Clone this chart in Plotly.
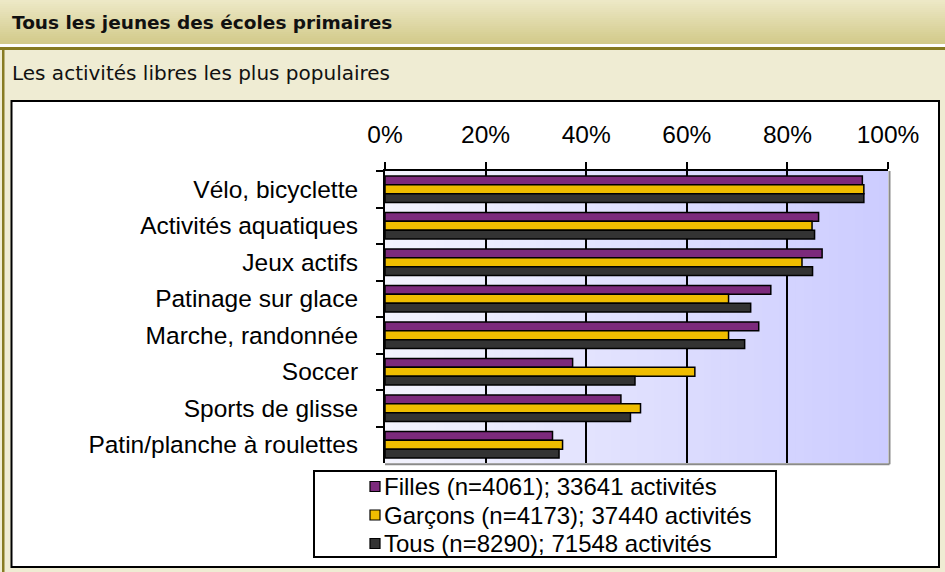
import plotly.graph_objects as go

categories = ["Vélo, bicyclette", "Activités aquatiques", "Jeux actifs", "Patinage sur glace",
              "Marche, randonnée", "Soccer", "Sports de glisse", "Patin/planche à roulettes"]
filles = [94.9, 86.2, 86.9, 76.7, 74.3, 37.3, 46.9, 33.3]
garcons = [95.2, 84.9, 82.9, 68.3, 68.3, 61.6, 50.8, 35.3]
tous = [95.2, 85.4, 85.0, 72.7, 71.5, 49.7, 48.8, 34.6]
series_names = ["Filles (n=4061); 33641 activités",
                "Garçons (n=4173); 37440 activités",
                "Tous (n=8290); 71548 activités"]
tick_vals = [0, 20, 40, 60, 80, 100]
tick_text = ["0%", "20%", "40%", "60%", "80%", "100%"]
title_text = "Tous les jeunes des écoles primaires"
subtitle_text = "Les activités libres les plus populaires"

W, H = 945, 572
L, R, T, B = 385, 57, 171, 109
PW, PH = W - L - R, H - T - B


def xp(px):
    return (px - L) / PW


def yp(py):
    return (H - B - py) / PH


colors = ["#7c2a7c", "#efbd00", "#333333"]
fig = go.Figure()
for name, vals, col in zip(series_names, [filles, garcons, tous], colors):
    fig.add_trace(go.Bar(
        y=categories, x=vals, name=name, orientation="h", showlegend=False,
        marker=dict(color=col, line=dict(color="#000000", width=1.5)),
    ))

shapes = []
# header gradient
n = 22
c0 = (237, 232, 198)
c1 = (210, 202, 138)
for i in range(n):
    t = i / (n - 1)
    c = tuple(int(round(c0[k] + (c1[k] - c0[k]) * t)) for k in range(3))
    y0 = 44 * i / n
    y1 = 44 * (i + 1) / n + 0.5
    shapes.append(dict(type="rect", xref="paper", yref="paper", x0=xp(0), x1=xp(W),
                       y0=yp(y0), y1=yp(y1), line=dict(width=0),
                       fillcolor="rgb(%d,%d,%d)" % c, layer="below"))
shapes.append(dict(type="rect", xref="paper", yref="paper", x0=xp(0), x1=xp(W),
                   y0=yp(44), y1=yp(47), line=dict(width=0), fillcolor="#ffffff", layer="below"))
shapes.append(dict(type="rect", xref="paper", yref="paper", x0=xp(0), x1=xp(W),
                   y0=yp(47), y1=yp(50), line=dict(width=0), fillcolor="#877b22", layer="below"))
shapes.append(dict(type="rect", xref="paper", yref="paper", x0=xp(2), x1=xp(4.5),
                   y0=yp(47), y1=yp(H), line=dict(width=0), fillcolor="#877b22", layer="below"))
# chart white box
shapes.append(dict(type="rect", xref="paper", yref="paper", x0=xp(12.5), x1=xp(940),
                   y0=yp(102), y1=yp(568), line=dict(width=0), fillcolor="#9a9a9a", layer="below"))
shapes.append(dict(type="rect", xref="paper", yref="paper", x0=xp(11.5), x1=xp(939),
                   y0=yp(101), y1=yp(567), line=dict(color="#000000", width=2),
                   fillcolor="#ffffff", layer="below"))
# plot background gradient
n = 60
g0 = (243, 243, 253)
g1 = (204, 204, 255)
for i in range(n):
    t = i / (n - 1)
    c = tuple(int(round(g0[k] + (g1[k] - g0[k]) * t)) for k in range(3))
    shapes.append(dict(type="rect", xref="x domain", yref="y domain",
                       x0=i / n, x1=min(1, (i + 1) / n + 0.005), y0=0, y1=1,
                       line=dict(width=0), fillcolor="rgb(%d,%d,%d)" % c, layer="below"))
# gray right / bottom edges
shapes.append(dict(type="line", xref="x domain", yref="y domain", x0=1.003, x1=1.003, y0=-0.004, y1=1,
                   line=dict(color="#8a8a8a", width=2), layer="above"))
shapes.append(dict(type="line", xref="x domain", yref="y domain", x0=0, x1=1.003, y0=-0.004, y1=-0.004,
                   line=dict(color="#8a8a8a", width=2), layer="above"))
# legend box
shapes.append(dict(type="rect", xref="paper", yref="paper", x0=xp(314), x1=xp(776),
                   y0=yp(471), y1=yp(557), line=dict(color="#000000", width=2),
                   fillcolor="#ffffff", layer="below"))

annotations = [
    dict(text="<b>" + title_text + "</b>", xref="paper", yref="paper", x=xp(10), y=yp(22),
         xanchor="left", yanchor="middle", showarrow=False,
         font=dict(family="DejaVu Sans", size=18.5, color="#111111")),
    dict(text=subtitle_text, xref="paper", yref="paper", x=xp(10), y=yp(73),
         xanchor="left", yanchor="middle", showarrow=False,
         font=dict(family="DejaVu Sans", size=20, color="#111111")),
]

# manual legend (entries built from the series names / colours)
for i, (name, col) in enumerate(zip(series_names, colors)):
    cy = 486.5 + 28.5 * i
    shapes.append(dict(type="rect", xref="paper", yref="paper", x0=xp(370), x1=xp(380),
                       y0=yp(cy + 5), y1=yp(cy - 5), line=dict(color="#000000", width=1.2),
                       fillcolor=col, layer="above"))
    annotations.append(dict(text=name, xref="paper", yref="paper", x=xp(382), y=yp(cy),
                            xanchor="left", yanchor="middle", showarrow=False,
                            font=dict(family="Liberation Sans, Arial", size=24, color="#000000")))

axis_font = dict(family="Liberation Sans, Arial", size=24.5, color="#000000")
fig.update_layout(
    width=W, height=H, autosize=False,
    margin=dict(l=L, r=R, t=T, b=B, pad=0),
    paper_bgcolor="#efecd3",
    plot_bgcolor="rgba(0,0,0,0)",
    barmode="group", bargap=0.27, bargroupgap=0.0,
    shapes=shapes, annotations=annotations,
    showlegend=False,
    xaxis=dict(side="top", range=[0, 100], tickvals=tick_vals, ticktext=tick_text,
               showgrid=True, gridcolor="#000000", gridwidth=1.5,
               showline=True, linecolor="#000000", linewidth=2,
               ticks="outside", ticklen=7, tickwidth=2, tickcolor="#000000",
               tickfont=axis_font, zeroline=False, fixedrange=True,
               ticklabelstandoff=9),
    yaxis=dict(autorange="reversed", categoryorder="array", categoryarray=categories,
               tickson="boundaries", ticks="outside", ticklen=7, tickwidth=2,
               tickcolor="#000000", showline=True, linecolor="#000000", linewidth=2,
               showgrid=False, tickfont=axis_font, ticklabelstandoff=20, fixedrange=True),
)

fig.write_html("out.html", config={"responsive": False, "displayModeBar": False},
               post_script="document.body.style.margin='0';document.body.style.overflow='hidden';")
